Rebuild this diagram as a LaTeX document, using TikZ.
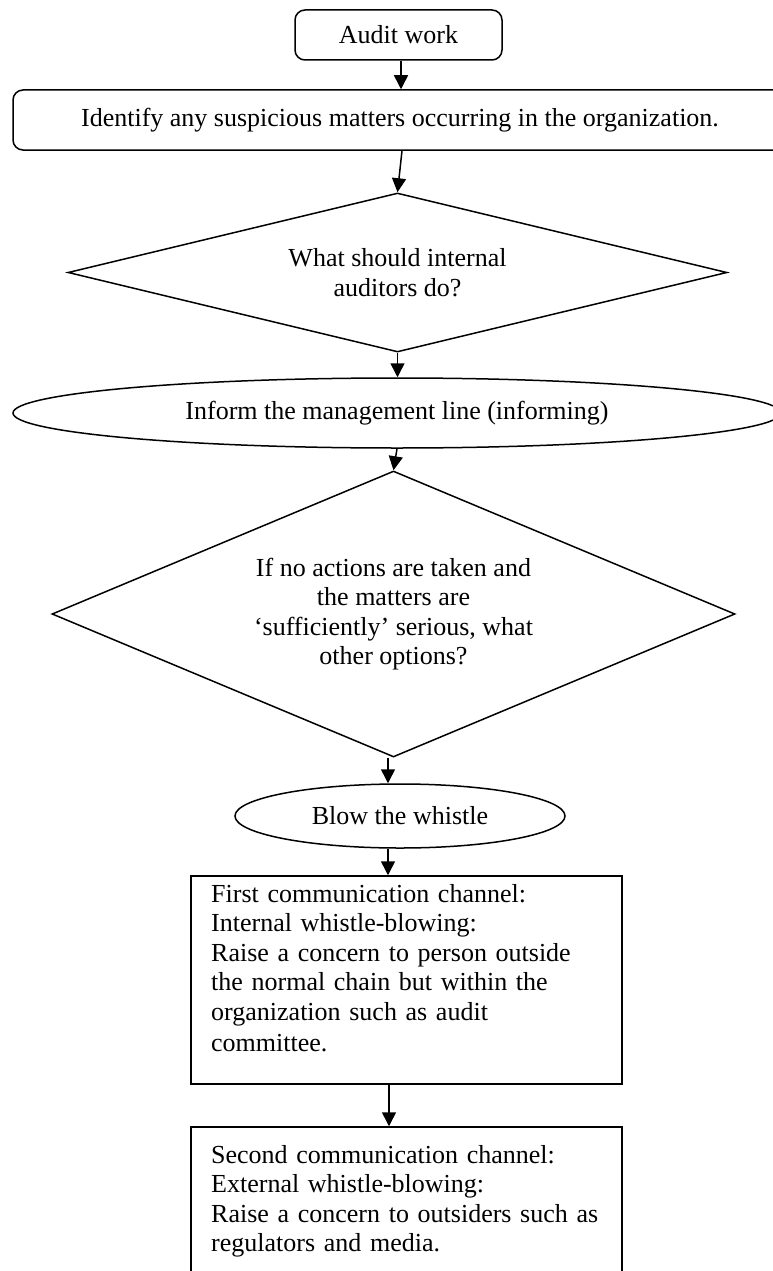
\documentclass[tikz,border=0pt]{standalone}
\usepackage{fontspec}
\setmainfont{Liberation Serif}
\usetikzlibrary{shapes.geometric,arrows.meta,calc}
\begin{document}
\begin{tikzpicture}[x=1pt,y=-1pt,
  every node/.style={font=\fontsize{26}{29.5}\selectfont},
  roundbox/.style={draw,line width=1.5pt,rounded corners=10pt,inner sep=0pt},
  decision/.style={draw,diamond,line width=1.5pt,inner sep=0pt,align=center},
  oval/.style={draw,ellipse,line width=1.5pt,inner sep=0pt},
  channel/.style={draw,rectangle,line width=1.5pt,inner sep=0pt,minimum width=431pt},
  body/.style={anchor=base west,align=left,inner sep=0pt,text width=405pt},
  arr/.style={-{Triangle[length=14pt,width=14pt]},line width=1.5pt}
]
\clip (0,0) rectangle (773,1271);
\fill[white] (0,0) rectangle (773,1271);

% flow of the audit decision
\node[roundbox,minimum width=207pt,minimum height=50pt] (audit) at (398.5,35) {Audit work};
\node[roundbox,minimum width=774pt,minimum height=60pt] (ident) at (400,120)
  {Identify any suspicious matters occurring in the organization.};
\node[decision,aspect=4.14,minimum width=659pt,minimum height=159pt] (q1) at (397.5,272.5)
  {What should internal\\auditors do?};
\node[oval,minimum width=768pt,minimum height=70pt] (inform) at (397,413)
  {Inform the management line (informing)};
\node[decision,aspect=2.39,minimum width=683pt,minimum height=286pt] (q2) at (393.5,614)
  {If no actions are taken and\\the matters are\\‘sufficiently’ serious, what\\other options?};
\node[oval,minimum width=330pt,minimum height=64pt] (blow) at (400,816) {Blow the whistle};

% the two whistle-blowing channels
\node[channel,minimum height=208pt] (ch1) at (406.5,980) {};
\node[body] (ch1text) at (211,902)
  {First communication channel:\\Internal whistle-blowing:\\Raise a concern to person outside\\the normal chain but within the\\organization such as audit\\[2pt]committee.};
\node[channel,minimum height=150pt] (ch2) at (406.5,1202) {};
\node[body] (ch2text) at (211,1163)
  {Second communication channel:\\External whistle-blowing:\\Raise a concern to outsiders such as\\regulators and media.};

% connectors
\draw[arr] ([xshift=2.5pt]audit.south) -- ([xshift=2.5pt]audit.south |- ident.north);
\draw[arr] ([xshift=2pt]ident.south) -- (q1.north);
\draw[arr] (q1.south) -- (q1.south |- inform.north);
\draw[arr] (inform.south) -- (q2.north);
\draw[arr] ([xshift=-5.5pt]q2.south) -- ([xshift=-5.5pt]q2.south |- blow.north);
\draw[arr] ([xshift=-12pt]blow.south) -- ([xshift=-12pt]blow.south |- ch1.north);
\draw[arr] ([xshift=-17.5pt]ch1.south) -- ([xshift=-17.5pt]ch1.south |- ch2.north);
\end{tikzpicture}
\end{document}
